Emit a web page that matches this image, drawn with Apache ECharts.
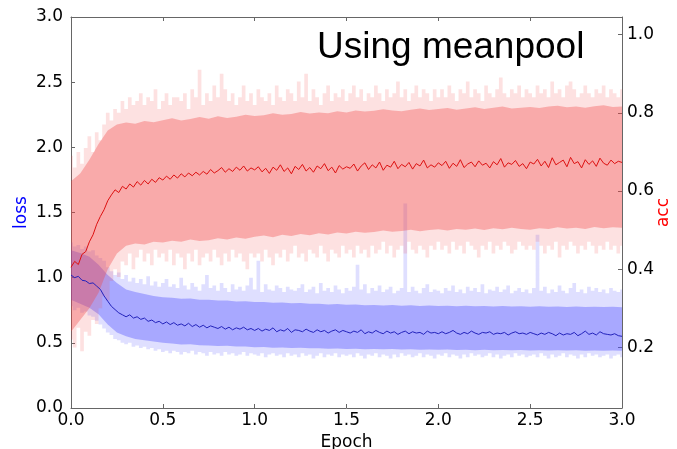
<!DOCTYPE html>
<html>
<head>
<meta charset="utf-8">
<script src="https://cdn.jsdelivr.net/npm/echarts@6/dist/echarts.min.js"></script>
<style>
  html, body { margin: 0; padding: 0; background: #fff; }
  #chart { width: 677px; height: 449px; }
</style>
</head>
<body>
<div id="chart"></div>
<script>
// sample spacing (epochs) of the noisy curves and of the dense band cores
var STEP = 0.02;
var CORE_STEP = 0.05;

var accTicks = [0.2, 0.4, 0.6, 0.8, 1.0];

// acc (right axis), mean curve
var accMean = [
  0.405, 0.420, 0.412, 0.438, 0.445, 0.470, 0.488, 0.515, 0.535, 0.552, 0.575, 0.590, 0.603, 0.596, 0.612, 0.605, 0.618, 0.610, 0.624, 0.615, 0.627, 0.618, 0.630, 0.622, 0.634, 0.628,
  0.638, 0.630, 0.641, 0.633, 0.644, 0.636, 0.646, 0.639, 0.648, 0.641, 0.650, 0.643, 0.655, 0.646, 0.652, 0.660, 0.648, 0.657, 0.650, 0.661, 0.653, 0.664, 0.651, 0.659, 0.654,
  0.662, 0.649, 0.658, 0.645, 0.661, 0.653, 0.667, 0.650, 0.659, 0.644, 0.663, 0.655, 0.668, 0.651, 0.660, 0.648, 0.664, 0.657, 0.670, 0.652, 0.661, 0.646, 0.665, 0.656, 0.662,
  0.658, 0.669, 0.651, 0.664, 0.672, 0.655, 0.667, 0.659, 0.674, 0.653, 0.666, 0.661, 0.676, 0.657, 0.668, 0.662, 0.673, 0.656, 0.670, 0.664, 0.679, 0.659, 0.667, 0.661, 0.672,
  0.665, 0.676, 0.658, 0.671, 0.663, 0.680, 0.660, 0.669, 0.674, 0.662, 0.677, 0.666, 0.671, 0.659, 0.675, 0.667, 0.683, 0.661, 0.672, 0.668, 0.678, 0.663, 0.670, 0.657, 0.674,
  0.669, 0.681, 0.664, 0.676, 0.660, 0.685, 0.667, 0.673, 0.679, 0.662, 0.686, 0.670, 0.675, 0.659, 0.680, 0.668, 0.677, 0.663, 0.684, 0.671, 0.666, 0.679, 0.670, 0.676, 0.673
];
// acc, outer envelope (faint spikes)
var accHi = [
  0.69, 0.66, 0.70, 0.67, 0.71, 0.74, 0.70, 0.75, 0.73, 0.77, 0.80, 0.78, 0.81, 0.80, 0.83, 0.81, 0.84, 0.82, 0.83, 0.85, 0.82, 0.84, 0.83, 0.86, 0.81, 0.83,
  0.85, 0.82, 0.84, 0.84, 0.83, 0.85, 0.81, 0.86, 0.84, 0.91, 0.82, 0.85, 0.83, 0.87, 0.84, 0.90, 0.86, 0.83, 0.85, 0.82, 0.84, 0.87, 0.83, 0.85, 0.82,
  0.86, 0.84, 0.83, 0.85, 0.82, 0.87, 0.84, 0.83, 0.86, 0.85, 0.83, 0.88, 0.84, 0.90, 0.83, 0.86, 0.84, 0.82, 0.85, 0.87, 0.83, 0.85, 0.84, 0.86, 0.83,
  0.85, 0.87, 0.84, 0.86, 0.83, 0.85, 0.84, 0.87, 0.85, 0.83, 0.86, 0.84, 0.85, 0.88, 0.84, 0.86, 0.83, 0.85, 0.87, 0.84, 0.86, 0.85, 0.83, 0.86, 0.84,
  0.86, 0.84, 0.87, 0.85, 0.83, 0.86, 0.85, 0.88, 0.84, 0.86, 0.85, 0.83, 0.87, 0.85, 0.84, 0.86, 0.89, 0.85, 0.84, 0.86, 0.85, 0.87, 0.84, 0.86, 0.85,
  0.84, 0.87, 0.85, 0.86, 0.84, 0.88, 0.85, 0.86, 0.84, 0.87, 0.88, 0.86, 0.84, 0.85, 0.87, 0.85, 0.84, 0.86, 0.85, 0.87, 0.84, 0.86, 0.85, 0.84, 0.86
];
var accLo = [
  0.22, 0.20, 0.25, 0.19, 0.24, 0.23, 0.27, 0.26, 0.30, 0.33, 0.32, 0.37, 0.40, 0.38, 0.42, 0.41, 0.44, 0.40, 0.43, 0.45, 0.42, 0.44, 0.41, 0.45, 0.43, 0.44,
  0.42, 0.45, 0.41, 0.44, 0.43, 0.40, 0.44, 0.42, 0.45, 0.41, 0.43, 0.44, 0.42, 0.45, 0.43, 0.41, 0.44, 0.42, 0.45, 0.43, 0.44, 0.42, 0.40, 0.44, 0.43,
  0.44, 0.42, 0.45, 0.43, 0.41, 0.44, 0.43, 0.45, 0.42, 0.44, 0.46, 0.43, 0.44, 0.42, 0.45, 0.44, 0.43, 0.46, 0.44, 0.42, 0.45, 0.44, 0.43, 0.46, 0.44,
  0.45, 0.43, 0.46, 0.44, 0.45, 0.43, 0.46, 0.44, 0.45, 0.47, 0.44, 0.46, 0.43, 0.45, 0.46, 0.44, 0.47, 0.45, 0.44, 0.46, 0.45, 0.43, 0.46, 0.45, 0.47,
  0.45, 0.46, 0.44, 0.47, 0.45, 0.46, 0.44, 0.47, 0.46, 0.45, 0.43, 0.46, 0.45, 0.47, 0.44, 0.46, 0.45, 0.47, 0.46, 0.44, 0.45, 0.47, 0.46, 0.45, 0.46,
  0.45, 0.47, 0.46, 0.44, 0.46, 0.45, 0.47, 0.43, 0.46, 0.45, 0.47, 0.46, 0.44, 0.46, 0.45, 0.47, 0.46, 0.44, 0.46, 0.45, 0.47, 0.45, 0.46, 0.44, 0.46
];
// acc, dense core of the band
var accCoreHi = [
  0.625, 0.645, 0.680, 0.720, 0.755, 0.770, 0.775, 0.772, 0.779, 0.776, 0.781,
  0.786, 0.780, 0.784, 0.789, 0.785, 0.791, 0.787, 0.790, 0.795, 0.792,
  0.794, 0.799, 0.795, 0.797, 0.802, 0.798, 0.801, 0.799, 0.804, 0.801,
  0.806, 0.803, 0.805, 0.809, 0.806, 0.804, 0.808, 0.811, 0.807, 0.810,
  0.812, 0.808, 0.811, 0.814, 0.810, 0.813, 0.816, 0.811, 0.813, 0.815,
  0.812, 0.816, 0.818, 0.814, 0.816, 0.813, 0.817, 0.819, 0.815, 0.816
];
var accCoreLo = [
  0.240, 0.270, 0.300, 0.340, 0.400, 0.440, 0.460, 0.466, 0.463, 0.470, 0.468,
  0.473, 0.470, 0.476, 0.472, 0.474, 0.479, 0.476, 0.481, 0.478, 0.483,
  0.486, 0.482, 0.488, 0.485, 0.490, 0.487, 0.492, 0.489, 0.494, 0.491,
  0.496, 0.493, 0.495, 0.499, 0.496, 0.498, 0.501, 0.497, 0.500, 0.502,
  0.499, 0.503, 0.501, 0.504, 0.500, 0.505, 0.502, 0.506, 0.503, 0.501,
  0.505, 0.503, 0.507, 0.504, 0.506, 0.503, 0.508, 0.505, 0.507, 0.506
];

// loss (left axis), mean curve
var lossMean = [
  1.02, 1.00, 1.01, 0.98, 0.975, 0.955, 0.96, 0.935, 0.91, 0.86, 0.82, 0.78, 0.755, 0.73, 0.715, 0.70, 0.715, 0.69, 0.70, 0.68, 0.69, 0.665, 0.675, 0.655, 0.665, 0.645,
  0.66, 0.64, 0.655, 0.635, 0.645, 0.63, 0.65, 0.625, 0.64, 0.62, 0.635, 0.615, 0.63, 0.62, 0.61, 0.625, 0.605, 0.62, 0.60, 0.615, 0.605, 0.62, 0.60, 0.61, 0.595,
  0.61, 0.59, 0.605, 0.595, 0.615, 0.585, 0.60, 0.59, 0.61, 0.58, 0.60, 0.595, 0.585, 0.605, 0.59, 0.58, 0.60, 0.585, 0.595, 0.575, 0.59, 0.60, 0.58, 0.595, 0.585,
  0.575, 0.59, 0.58, 0.60, 0.57, 0.585, 0.575, 0.595, 0.58, 0.57, 0.59, 0.575, 0.585, 0.565, 0.58, 0.59, 0.57, 0.585, 0.575, 0.58, 0.565, 0.59, 0.575, 0.58, 0.57,
  0.585, 0.57, 0.58, 0.595, 0.575, 0.565, 0.58, 0.57, 0.59, 0.575, 0.565, 0.58, 0.575, 0.585, 0.565, 0.575, 0.57, 0.58, 0.56, 0.575, 0.585, 0.57, 0.575, 0.565, 0.58,
  0.57, 0.56, 0.575, 0.565, 0.58, 0.57, 0.555, 0.575, 0.56, 0.57, 0.565, 0.58, 0.555, 0.57, 0.59, 0.565, 0.575, 0.56, 0.585, 0.57, 0.565, 0.56, 0.57, 0.555, 0.55
];
var lossHi = [
  1.27, 1.24, 1.25, 1.22, 1.24, 1.20, 1.21, 1.17, 1.15, 1.13, 1.08, 1.05, 1.02, 1.04, 0.99, 1.02, 0.97, 1.00, 0.96, 0.99, 0.95, 1.01, 0.94, 0.97, 0.93, 0.96,
  0.99, 0.93, 0.95, 0.92, 1.00, 0.94, 0.91, 0.96, 0.93, 0.90, 0.95, 1.02, 0.92, 0.94, 0.90, 0.96, 0.92, 0.89, 0.95, 0.91, 0.93, 0.90, 0.94, 1.00, 0.91,
  1.13, 0.89, 0.95, 0.91, 0.90, 0.94, 0.92, 0.89, 0.93, 0.91, 0.90, 0.92, 0.95, 0.89, 0.91, 0.93, 0.88, 0.96, 0.90, 0.92, 0.89, 0.94, 0.91, 0.88, 0.92,
  0.90, 0.93, 1.10, 0.91, 0.95, 0.88, 0.92, 0.90, 0.94, 0.89, 0.91, 0.93, 0.88, 0.90, 0.92, 1.57, 0.89, 0.93, 0.90, 0.88, 0.92, 0.95, 0.89, 0.91, 0.90,
  0.88, 0.92, 0.90, 0.94, 0.89, 0.91, 0.88, 0.93, 0.90, 0.92, 0.89, 0.95, 0.88, 0.91, 0.90, 0.93, 0.89, 0.91, 0.94, 0.88, 0.90, 0.92, 0.89, 0.91, 0.88,
  0.92, 1.33, 0.90, 0.93, 0.88, 0.91, 0.89, 0.94, 0.90, 0.88, 0.92, 0.96, 0.89, 0.91, 0.88, 0.93, 0.90, 0.92, 0.89, 0.91, 0.88, 0.92, 0.90, 0.89, 0.91
];
var lossLo = [
  0.78, 0.75, 0.77, 0.73, 0.74, 0.71, 0.70, 0.67, 0.64, 0.61, 0.58, 0.56, 0.53, 0.52, 0.50, 0.49, 0.50, 0.47, 0.48, 0.46, 0.47, 0.45, 0.46, 0.44, 0.45, 0.43,
  0.44, 0.42, 0.44, 0.43, 0.41, 0.43, 0.42, 0.44, 0.41, 0.43, 0.42, 0.40, 0.43, 0.41, 0.42, 0.40, 0.43, 0.41, 0.42, 0.40, 0.41, 0.43, 0.40, 0.42, 0.41,
  0.40, 0.42, 0.39, 0.41, 0.42, 0.40, 0.41, 0.39, 0.42, 0.40, 0.41, 0.39, 0.42, 0.40, 0.41, 0.38, 0.40, 0.42, 0.39, 0.41, 0.40, 0.42, 0.39, 0.41, 0.40,
  0.41, 0.39, 0.42, 0.40, 0.38, 0.41, 0.40, 0.42, 0.39, 0.41, 0.40, 0.38, 0.41, 0.39, 0.42, 0.40, 0.41, 0.39, 0.40, 0.42, 0.39, 0.41, 0.40, 0.38, 0.41,
  0.40, 0.42, 0.39, 0.41, 0.40, 0.38, 0.41, 0.39, 0.42, 0.40, 0.41, 0.39, 0.40, 0.42, 0.39, 0.41, 0.38, 0.40, 0.41, 0.39, 0.42, 0.40, 0.41, 0.39, 0.40,
  0.41, 0.39, 0.42, 0.40, 0.38, 0.41, 0.39, 0.40, 0.42, 0.39, 0.41, 0.40, 0.38, 0.41, 0.39, 0.42, 0.40, 0.41, 0.39, 0.40, 0.41, 0.38, 0.40, 0.41, 0.39
];
var lossCoreHi = [
  1.21, 1.19, 1.16, 1.10, 1.02, 0.96, 0.91, 0.89, 0.875, 0.86, 0.85,
  0.845, 0.838, 0.84, 0.831, 0.83, 0.824, 0.825, 0.818, 0.82, 0.813,
  0.814, 0.808, 0.81, 0.803, 0.805, 0.799, 0.80, 0.795, 0.797, 0.792,
  0.794, 0.789, 0.791, 0.787, 0.79, 0.785, 0.788, 0.783, 0.786, 0.782,
  0.785, 0.781, 0.784, 0.78, 0.783, 0.779, 0.782, 0.778, 0.781, 0.777,
  0.78, 0.776, 0.779, 0.775, 0.778, 0.774, 0.777, 0.774, 0.776, 0.773
];
var lossCoreLo = [
  0.83, 0.80, 0.77, 0.72, 0.64, 0.58, 0.55, 0.53, 0.52, 0.51, 0.50,
  0.494, 0.488, 0.49, 0.482, 0.48, 0.476, 0.478, 0.471, 0.472, 0.467,
  0.468, 0.463, 0.465, 0.46, 0.462, 0.458, 0.459, 0.455, 0.457, 0.453,
  0.455, 0.451, 0.453, 0.45, 0.452, 0.449, 0.45, 0.447, 0.449, 0.446,
  0.448, 0.445, 0.447, 0.444, 0.446, 0.444, 0.445, 0.443, 0.445, 0.442,
  0.444, 0.442, 0.443, 0.441, 0.443, 0.44, 0.442, 0.44, 0.441, 0.439
];

var X_MAX = 3;

function pairs(step, values) {
  return values.map(function (v, i) { return [+(i * step).toFixed(2), v]; });
}

// band between lo[] and hi[], drawn as one polygon through the axis scales
function band(step, lo, hi, yAxisIndex, color, stepped) {
  return {
    type: 'custom', yAxisIndex: yAxisIndex, silent: true,
    data: [[0, lo[0]]],
    renderItem: function (params, api) {
      var upper = [], lower = [];
      hi.forEach(function (v, i) {
        var x = i * step;
        if (stepped) {
          var x0 = Math.max(0, x - step / 2), x1 = Math.min(X_MAX, x + step / 2);
          upper.push(api.coord([x0, v]), api.coord([x1, v]));
          lower.push(api.coord([x0, lo[i]]), api.coord([x1, lo[i]]));
        } else {
          upper.push(api.coord([x, v]));
          lower.push(api.coord([x, lo[i]]));
        }
      });
      return {
        type: 'polygon',
        shape: { points: upper.concat(lower.reverse()) },
        style: { fill: color }
      };
    }
  };
}

var FONT = 'DejaVu Sans';
var AXIS_COLOR = '#666';

var chart = echarts.init(document.getElementById('chart'));
var option = {
  animation: false,
  backgroundColor: '#fff',
  title: {
    text: 'Using meanpool',
    left: 312, top: 24,
    textStyle: { fontFamily: 'Liberation Sans', fontSize: 37, fontWeight: 'normal', color: '#000' }
  },
  grid: { left: 71, right: 55, top: 17, bottom: 41, outerBoundsMode: 'none' },
  xAxis: [{
    type: 'value', min: 0, max: X_MAX, interval: 0.5, position: 'bottom',
    name: 'Epoch', nameLocation: 'middle', nameGap: 23,
    nameTextStyle: { fontFamily: FONT, fontSize: 17, color: '#000' },
    axisLine: { show: true, onZero: false, lineStyle: { color: AXIS_COLOR } },
    axisTick: { inside: true, length: 4, lineStyle: { color: AXIS_COLOR } },
    axisLabel: { fontFamily: FONT, fontSize: 17, color: '#000', margin: 4,
      formatter: function (v) { return v.toFixed(1); } },
    splitLine: { show: false }
  }, {
    type: 'value', min: 0, max: X_MAX, interval: 0.5, position: 'top',
    axisLine: { show: true, onZero: false, lineStyle: { color: AXIS_COLOR } },
    axisTick: { inside: true, length: 4, lineStyle: { color: AXIS_COLOR } },
    axisLabel: { show: false },
    splitLine: { show: false }
  }],
  yAxis: [{
    type: 'value', min: 0, max: 3, interval: 0.5, position: 'left',
    name: 'loss', nameLocation: 'middle', nameGap: 41, nameRotate: 90, nameMoveOverlap: false,
    nameTextStyle: { fontFamily: FONT, fontSize: 17, color: '#0000ff' },
    axisLine: { show: true, onZero: false, lineStyle: { color: AXIS_COLOR } },
    axisTick: { inside: true, length: 4, lineStyle: { color: AXIS_COLOR } },
    axisLabel: { fontFamily: FONT, fontSize: 17, color: '#000', margin: 8,
      formatter: function (v) { return v.toFixed(1); } },
    splitLine: { show: false }
  }, {
    type: 'value', min: 0.045, max: 1.045, position: 'right',
    name: 'acc', nameLocation: 'middle', nameGap: 33, nameRotate: 90, nameMoveOverlap: false,
    nameTextStyle: { fontFamily: FONT, fontSize: 17, color: '#ff0000' },
    axisLine: { show: true, onZero: false, lineStyle: { color: AXIS_COLOR } },
    axisTick: { inside: true, length: 4, customValues: accTicks, lineStyle: { color: AXIS_COLOR } },
    axisLabel: { fontFamily: FONT, fontSize: 17, color: '#000', margin: 5, customValues: accTicks,
      formatter: function (v) { return v.toFixed(1); } },
    splitLine: { show: false }
  }],
  series: [
    band(STEP, lossLo, lossHi, 0, 'rgba(80,80,255,0.18)', true),
    band(CORE_STEP, lossCoreLo, lossCoreHi, 0, 'rgba(80,80,255,0.38)', false),
    band(STEP, accLo, accHi, 1, 'rgba(240,70,70,0.16)', true),
    band(CORE_STEP, accCoreLo, accCoreHi, 1, 'rgba(240,70,70,0.35)', false),
    {
      name: 'loss', type: 'line', yAxisIndex: 0, symbol: 'none', silent: true,
      data: pairs(STEP, lossMean), lineStyle: { color: '#2222bb', width: 1 }
    }, {
      name: 'acc', type: 'line', yAxisIndex: 1, symbol: 'none', silent: true,
      data: pairs(STEP, accMean), lineStyle: { color: '#dd1111', width: 1 }
    }
  ]
};
chart.setOption(option);
</script>
</body>
</html>
